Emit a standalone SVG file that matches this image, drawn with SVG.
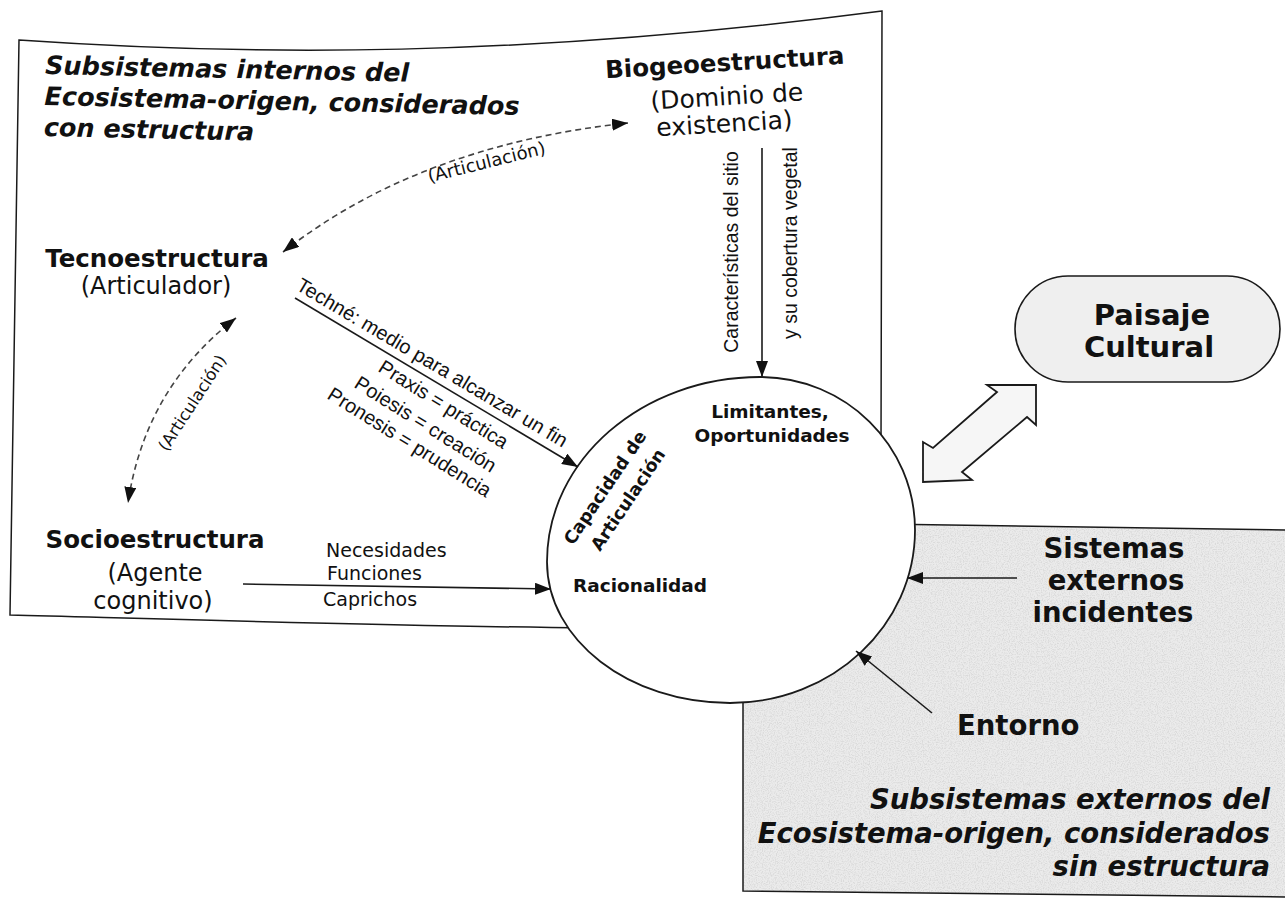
<svg xmlns="http://www.w3.org/2000/svg" width="1285" height="901" viewBox="0 0 1285 901">
<defs>
<style>
.b{font-family:"DejaVu Sans","Liberation Sans",sans-serif;font-weight:bold;fill:#111}
.bi{font-family:"DejaVu Sans","Liberation Sans",sans-serif;font-weight:bold;font-style:italic;fill:#111}
.r{font-family:"DejaVu Sans","Liberation Sans",sans-serif;fill:#111}
.n{font-family:"Liberation Sans",Arial,sans-serif;fill:#111}
.m{text-anchor:middle}
.e{text-anchor:end}
.ln{fill:none;stroke:#1a1a1a;stroke-width:1.6}
.edge{fill:none;stroke:#1a1a1a;stroke-width:1.5}
.dash{fill:none;stroke:#444;stroke-width:1.6;stroke-dasharray:6 4}
</style>
<marker id="ah" viewBox="0 0 16 12" refX="16" refY="6" markerWidth="16" markerHeight="12" markerUnits="userSpaceOnUse" orient="auto-start-reverse"><path d="M0,0 L16,6 L0,12 z" fill="#111"/></marker>
<filter id="speck" x="0" y="0" width="1" height="1">
<feTurbulence type="fractalNoise" baseFrequency="0.85" numOctaves="2" seed="7" result="t"/>
<feColorMatrix in="t" type="matrix" values="0 0 0 0 0.35  0 0 0 0 0.35  0 0 0 0 0.35  0 0 0 -3 1.75" result="s"/>
<feComposite in="s" in2="SourceGraphic" operator="in"/>
</filter>
</defs>
<rect width="1285" height="901" fill="#fff"/>

<g id="region-external">
<polygon points="743,600 880,524 1285,530 1285,897 743,891" fill="#ebebeb"/>
<polygon points="743,600 880,524 1285,530 1285,897 743,891" fill="#000" filter="url(#speck)" opacity="0.22"/>
<path class="edge" d="M880,524 L1285,530"/>
<path class="edge" d="M743,690 L743,891 L1285,897"/>
</g>

<g id="region-internal">
<path class="edge" d="M590,628 C400,626 200,620 10,615 L19,40 C250,56 520,58 882,11 L881,445"/>
</g>

<g id="node-paisaje">
<rect x="1015" y="276" width="265" height="106" rx="53" fill="#efefef" stroke="#1a1a1a" stroke-width="1.6"/>
<text class="b m" font-size="29" x="1152" y="325">Paisaje</text>
<text class="b m" font-size="29" x="1149" y="357">Cultural</text>
</g>

<g id="node-capacidad">
<path d="M760,377 C845.6,377 915,445.5 915,530 C915,625.5 832.2,703 730,703 C628.9,703 547,639.9 547,562 C547,459.8 642.4,377 760,377 Z" fill="#fff" stroke="#1a1a1a" stroke-width="1.8"/>
<text class="b m" font-size="18.5" x="770" y="418">Limitantes,</text>
<text class="b m" font-size="18.5" x="772" y="442">Oportunidades</text>
<text class="b m" font-size="17.5" transform="translate(610,491) rotate(-56)">Capacidad de</text>
<text class="b m" font-size="17.5" transform="translate(633,503) rotate(-56)">Articulación</text>
<text class="b" font-size="18.5" x="573" y="592">Racionalidad</text>
</g>

<g id="title-internal" transform="rotate(1.2 45 74)">
<text class="bi" font-size="25.5" x="45" y="74">Subsistemas internos del</text>
<text class="bi" font-size="25.5" x="45" y="105">Ecosistema-origen, considerados</text>
<text class="bi" font-size="25.5" x="45" y="136">con estructura</text>
</g>

<g id="node-biogeo" transform="rotate(-3.5 727 100)">
<text class="b m" font-size="24.5" x="727" y="71">Biogeoestructura</text>
<text class="r m" font-size="25" x="727" y="105">(Dominio de</text>
<text class="r m" font-size="25" x="723" y="132">existencia)</text>
</g>

<g id="node-tecno">
<text class="b m" font-size="24.5" x="157" y="267">Tecnoestructura</text>
<text class="r m" font-size="24" x="156" y="294">(Articulador)</text>
</g>

<g id="node-socio">
<text class="b m" font-size="24.5" x="155" y="548">Socioestructura</text>
<text class="r m" font-size="24" x="155" y="581">(Agente</text>
<text class="r m" font-size="24" x="153" y="609">cognitivo)</text>
</g>

<g id="node-sistemas">
<text class="b m" font-size="27.5" x="1114" y="558">Sistemas</text>
<text class="b m" font-size="27.5" x="1116" y="590">externos</text>
<text class="b m" font-size="27.5" x="1113" y="622">incidentes</text>
</g>

<g id="node-entorno">
<text class="b" font-size="27.5" x="957" y="735">Entorno</text>
</g>

<g id="title-external">
<text class="bi e" font-size="27.5" x="1270" y="809">Subsistemas externos del</text>
<text class="bi e" font-size="27.5" x="1270" y="843">Ecosistema-origen, considerados</text>
<text class="bi e" font-size="27.5" x="1270" y="876">sin estructura</text>
</g>

<g id="connectors">
<path class="dash" d="M283,252 Q420,145 628,123" marker-start="url(#ah)" marker-end="url(#ah)"/>
<path class="dash" d="M236,318 Q145,388 128,503" marker-start="url(#ah)" marker-end="url(#ah)"/>
<path class="ln" d="M762,148 L762,377" marker-end="url(#ah)"/>
<path class="ln" d="M295,298 L578,467" marker-end="url(#ah)"/>
<path class="ln" d="M243,584 L551,589" marker-end="url(#ah)"/>
<path class="ln" d="M1017,578 L907,578" marker-end="url(#ah)"/>
<path class="ln" d="M932,713 L856,651" marker-end="url(#ah)"/>
<polygon points="923,482 923,442 933,448 997,392 987,385 1036,385 1036,425 1027,417 962,472 972,480" fill="#f6f6f6" stroke="#1a1a1a" stroke-width="1.8" stroke-linejoin="miter"/>
<text class="r m" font-size="18" transform="translate(488,168) rotate(-14)">(Articulación)</text>
<text class="r m" font-size="16.5" transform="translate(197,406) rotate(-57)">(Articulación)</text>
<text class="n m" font-size="19.5" transform="translate(738,252) rotate(-90)">Características del sitio</text>
<text class="n m" font-size="19.5" transform="translate(797,243) rotate(-90)">y su cobertura vegetal</text>
<text class="n" font-size="20" transform="translate(295,289) rotate(30.7)">Techné: medio para alcanzar un fin</text>
<text class="n m" font-size="20" transform="translate(440,410) rotate(32)">Praxis = práctica</text>
<text class="n m" font-size="20" transform="translate(422,430) rotate(32)">Poiesis = creación</text>
<text class="n m" font-size="20" transform="translate(406,448) rotate(32)">Pronesis = prudencia</text>
<text class="r" font-size="19" x="326" y="557">Necesidades</text>
<text class="r" font-size="19" x="327" y="580">Funciones</text>
<text class="r" font-size="19" x="323" y="606">Caprichos</text>
</g>
</svg>
